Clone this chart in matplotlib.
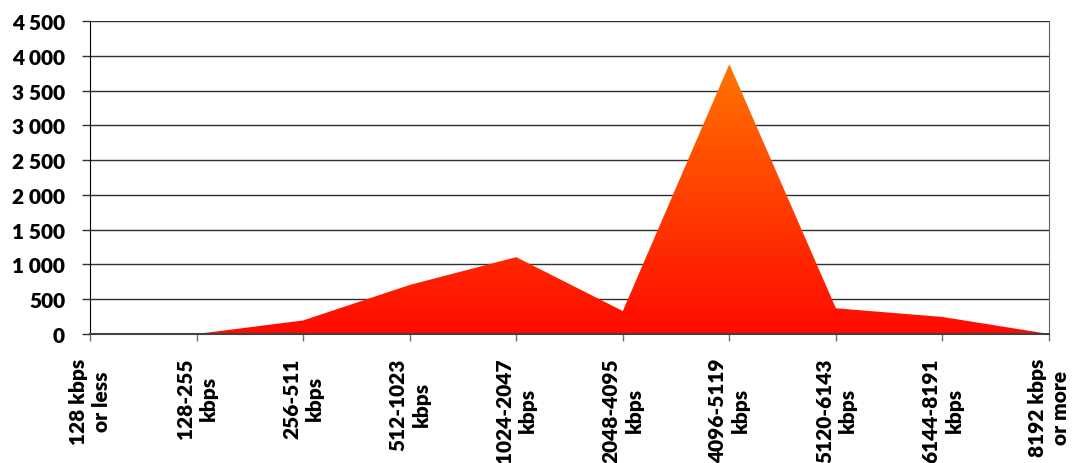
import matplotlib.pyplot as plt
import numpy as np
from matplotlib.colors import LinearSegmentedColormap
from matplotlib.ticker import FuncFormatter

categories = ["128 kbps\nor less", "128-255\nkbps", "256-511\nkbps", "512-1023\nkbps",
              "1024-2047\nkbps", "2048-4095\nkbps", "4096-5119\nkbps", "5120-6143\nkbps",
              "6144-8191\nkbps", "8192 kbps\nor more"]
values = [0, 0, 195, 705, 1105, 330, 3880, 370, 245, 0]

plt.rcParams["font.family"] = ["Lato", "DejaVu Sans"]

fig = plt.figure(figsize=(10.81, 4.64), dpi=100)
ax = fig.add_axes([0.0833, 0.278, 0.8871, 0.6746])

x = np.arange(len(categories))
poly = ax.fill_between(x, values, 0, color="none", linewidth=0)

# vertical red -> orange gradient clipped to the area
cmap = LinearSegmentedColormap.from_list("ro", ["#ff0a00", "#ff7400"])
grad = np.linspace(0, 1, 256).reshape(-1, 1)
im = ax.imshow(grad, cmap=cmap, origin="lower", aspect="auto",
               extent=[x[0], x[-1], 0, max(values)], zorder=2)
im.set_clip_path(poly.get_paths()[0], transform=ax.transData)

ax.set_xlim(x[0], x[-1])
ax.set_ylim(0, 4500)
ax.set_yticks(np.arange(0, 4501, 500))
ax.yaxis.set_major_formatter(FuncFormatter(lambda v, p: f"{int(v):,}".replace(",", " ")))
ax.set_xticks(x)
ax.set_xticklabels(categories, rotation=90, ha="center", va="top",
                   multialignment="center", linespacing=1.25)

ax.grid(axis="y", color="#303030", linewidth=1)
ax.set_axisbelow(True)
for lab in ax.get_xticklabels() + ax.get_yticklabels():
    lab.set_fontweight("heavy")
    lab.set_fontsize(15)
ax.tick_params(axis="y", length=6, width=1, pad=12, color="#303030")
ax.tick_params(axis="x", length=5, width=1, pad=12, color="#707070")

ax.spines["top"].set_visible(False)
ax.spines["left"].set_color("black")
ax.spines["right"].set_color("#606060")
ax.spines["bottom"].set_color("#404040")
ax.spines["bottom"].set_linewidth(1.5)
ax.spines["bottom"].set_zorder(3)

fig.savefig("out.png", dpi=100)
